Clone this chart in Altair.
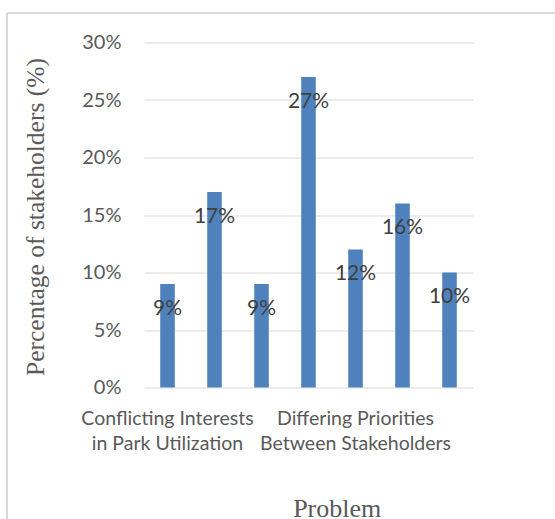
import altair as alt
import pandas as pd

# Share of stakeholders naming each problem (percent)
problem_ids = [1, 2, 3, 4, 5, 6, 7]
shares = [9, 17, 9, 27, 12, 16, 10]
# Category labels shown on the axis (every fourth problem is labelled)
tick_labels = {
    1: ["Conflicting Interests", "in Park Utilization"],
    5: ["Differing Priorities", "Between Stakeholders"],
}
y_ticks = [0, 5, 10, 15, 20, 25, 30]

df = pd.DataFrame({"problem": problem_ids, "share": shares})

label_expr = " : ".join(
    f"datum.value == {k} ? {v!r}" for k, v in tick_labels.items()
) + " : ''"

PLOT_W, PLOT_H = 329, 345
LEFT, TOP = 144, 42.5
GREY = "#595959"
GRID = "#d9d9d9"
SANS = "Lato"
SERIF = "Liberation Serif"

x_enc = alt.X(
    "problem:O",
    sort=problem_ids,
    scale=alt.Scale(paddingInner=0.69, paddingOuter=0.345),
    axis=alt.Axis(
        title="Problem",
        labelExpr=label_expr,
        labelAngle=0,
        labelFont=SANS,
        labelFontSize=19.5,
        labelColor=GREY,
        labelBaseline="alphabetic",
        labelLineHeight=25,
        labelPadding=36.5,
        labelLimit=0,
        labelOverlap=False,
        ticks=False,
        tickSize=0,
        domain=False,
        grid=False,
        titleFont=SERIF,
        titleFontSize=26,
        titleFontWeight="normal",
        titleColor=GREY,
        titleX=192.7,
        titleY=128.5,
        titleAlign="center",
        titleBaseline="alphabetic",
    ),
)

y_enc = alt.Y(
    "share:Q",
    scale=alt.Scale(domain=[0, 30], nice=False, zero=True),
    axis=alt.Axis(
        title="Percentage of stakeholders (%)",
        values=y_ticks,
        labelExpr="datum.value + '%'",
        labelFont=SANS,
        labelFontSize=20,
        labelColor=GREY,
        labelPadding=23,
        ticks=False,
        tickSize=0,
        domain=False,
        grid=True,
        gridColor=GRID,
        gridWidth=1.2,
        titleFont=SERIF,
        titleFontSize=25.5,
        titleFontWeight="normal",
        titleColor=GREY,
        titleAngle=-90,
        titleX=-101,
        titleY=174,
        titleAlign="center",
        titleBaseline="alphabetic",
    ),
)

base = alt.Chart(df).encode(x=x_enc)

bars = base.mark_bar(color="#4f81bd").encode(y=y_enc)

labels = base.transform_calculate(
    label="datum.share + '%'"
).mark_text(
    font=SANS, fontSize=21, color="#404040", baseline="middle", align="center", dy=24.5
).encode(
    y=alt.Y("share:Q"),
    text="label:N",
)

# Outer chart frame (top and left edges)
frame_top = alt.Chart(df).mark_rule(color=GRID, strokeWidth=1.2).encode(
    x=alt.value(7 - LEFT), x2=alt.value(555 - LEFT), y=alt.value(13 - TOP)
)
frame_left = alt.Chart(df).mark_rule(color=GRID, strokeWidth=1.2).encode(
    x=alt.value(7 - LEFT), y=alt.value(13 - TOP), y2=alt.value(519 - TOP)
)

chart = (
    alt.layer(frame_top, frame_left, bars, labels)
    .properties(
        width=PLOT_W,
        height=PLOT_H,
        autosize=alt.AutoSizeParams(type="none"),
        padding={"left": LEFT, "top": TOP, "right": 555 - LEFT - PLOT_W, "bottom": 519 - TOP - PLOT_H},
        background="white",
    )
    .configure_view(stroke=None)
)

chart.save("out.html", embed_options={"renderer": "svg", "actions": False})
